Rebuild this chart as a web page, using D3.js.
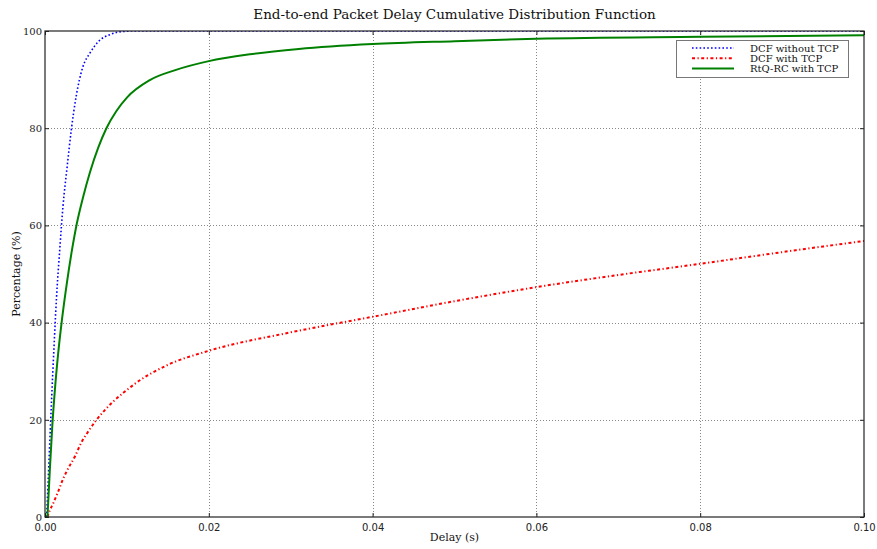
<!DOCTYPE html>
<html>
<head>
<meta charset="utf-8">
<script src="https://cdn.jsdelivr.net/npm/d3@7"></script>
<style>
  html, body { margin: 0; padding: 0; background: #fff; }
  svg { display: block; }
</style>
</head>
<body>
<svg id="chart" width="877" height="549"></svg>
<script>
// ---- data ----
const chartTitle = "End-to-end Packet Delay Cumulative Distribution Function";
const xLabel = "Delay (s)";
const yLabel = "Percentage (%)";
const xTicks = [0, 0.02, 0.04, 0.06, 0.08, 0.1];
const yTicks = [0, 20, 40, 60, 80, 100];
const seriesNames = ["DCF without TCP", "DCF with TCP", "RtQ-RC with TCP"];

const dcfNoTcpX = [0.0002, 0.0005, 0.0008, 0.0011, 0.0014, 0.0018, 0.0022, 0.0027, 0.0032, 0.0038, 0.0046, 0.0055, 0.0065, 0.008, 0.0095, 0.011, 0.1];
const dcfNoTcpY = [0, 12, 24, 35, 45, 55, 64, 72, 79.5, 86.5, 92.5, 95.5, 97.8, 99.3, 99.9, 100, 100];

const dcfTcpX = [0.0003, 0.0006, 0.001, 0.0016, 0.0022, 0.0029, 0.0037, 0.0044, 0.0052, 0.0062, 0.0072, 0.0083, 0.0096, 0.0108, 0.015, 0.02, 0.03, 0.04, 0.05, 0.06, 0.07, 0.08, 0.09, 0.1];
const dcfTcpY = [0, 1.4, 2.8, 5.2, 7.8, 10.2, 12.6, 15.2, 17.4, 19.8, 21.8, 23.7, 25.6, 27.2, 31.3, 34.2, 38.0, 41.2, 44.4, 47.3, 49.8, 52.1, 54.5, 56.8];

const rtqX = [0.0003, 0.0006, 0.0009, 0.0012, 0.0016, 0.0021, 0.0027, 0.0033, 0.0039, 0.0046, 0.0055, 0.0065, 0.0075, 0.0087, 0.01, 0.0128, 0.016, 0.02, 0.025, 0.031, 0.04, 0.05, 0.06, 0.08, 0.1];
const rtqY = [0, 10, 19, 26, 33.5, 41, 48.5, 55, 60.5, 65.5, 71, 76, 80, 83.5, 86.3, 89.9, 92, 93.8, 95.2, 96.3, 97.3, 97.9, 98.4, 98.8, 99.1];

// ---- layout ----
const W = 877, H = 549;
const margin = { left: 45, right: 13, top: 31, bottom: 32 };
const pw = W - margin.left - margin.right;
const ph = H - margin.top - margin.bottom;

const svg = d3.select("#chart");
const x = d3.scaleLinear().domain([0, 0.1]).range([0, pw]);
const y = d3.scaleLinear().domain([0, 100]).range([ph, 0]);

const g = svg.append("g").attr("transform", `translate(${margin.left},${margin.top})`);

svg.append("defs").append("clipPath").attr("id", "clip")
  .append("rect").attr("x", 0).attr("y", 0).attr("width", pw).attr("height", ph);

// grid
const grid = g.append("g");
grid.selectAll(".gx").data(xTicks.slice(1, -1)).enter().append("line")
  .attr("x1", d => Math.round(x(d)) + 0.5).attr("x2", d => Math.round(x(d)) + 0.5)
  .attr("y1", 0).attr("y2", ph)
  .attr("stroke", "#888").attr("stroke-width", 1).attr("stroke-dasharray", "1,2");
grid.selectAll(".gy").data(yTicks.slice(1, -1)).enter().append("line")
  .attr("y1", d => Math.round(y(d)) + 0.5).attr("y2", d => Math.round(y(d)) + 0.5)
  .attr("x1", 0).attr("x2", pw)
  .attr("stroke", "#888").attr("stroke-width", 1).attr("stroke-dasharray", "1,2");

// lines
const series = [
  { name: seriesNames[0], xs: dcfNoTcpX, ys: dcfNoTcpY, color: "#0000ff", width: 1.6, dash: "1.6,2.2" },
  { name: seriesNames[1], xs: dcfTcpX, ys: dcfTcpY, color: "#ff0000", width: 2, dash: "3,2.5,1.2,2.5" },
  { name: seriesNames[2], xs: rtqX, ys: rtqY, color: "#008000", width: 2, dash: null }
];
const line = d3.line().x(d => x(d[0])).y(d => y(d[1])).curve(d3.curveMonotoneX);
const lines = g.append("g").attr("clip-path", "url(#clip)");
series.forEach(s => {
  const pts = s.xs.map((v, i) => [v, s.ys[i]]);
  lines.append("path").datum(pts).attr("d", line)
    .attr("fill", "none").attr("stroke", s.color).attr("stroke-width", s.width)
    .attr("stroke-dasharray", s.dash);
});

// axes (ticks inward)
const xAxis = d3.axisBottom(x).tickValues(xTicks).tickFormat(d3.format(".2f")).tickSizeInner(-4).tickSizeOuter(0).tickPadding(7);
const yAxis = d3.axisLeft(y).tickValues(yTicks).tickFormat(d3.format("d")).tickSizeInner(-4).tickSizeOuter(0).tickPadding(3);
const xa = g.append("g").attr("transform", `translate(0,${ph})`).call(xAxis);
const ya = g.append("g").call(yAxis);
const xTop = g.append("g").call(d3.axisTop(x).tickValues(xTicks).tickSizeInner(-4).tickSizeOuter(0).tickFormat(""));
const yRight = g.append("g").attr("transform", `translate(${pw},0)`).call(d3.axisRight(y).tickValues(yTicks).tickSizeInner(-4).tickSizeOuter(0).tickFormat(""));
[xa, ya, xTop, yRight].forEach(a => {
  a.select(".domain").remove();
  a.selectAll(".tick line").attr("stroke", "#222");
});
xa.selectAll("text").attr("font-family", "DejaVu Sans").attr("font-size", 10).attr("fill", "#222");
ya.selectAll("text").attr("font-family", "DejaVu Serif").attr("font-size", 10).attr("fill", "#222");

// frame
g.append("rect").attr("x", 0).attr("y", 0).attr("width", pw).attr("height", ph)
  .attr("fill", "none").attr("stroke", "#222").attr("stroke-width", 1.2);

// title & labels
svg.append("text").attr("x", margin.left + pw / 2).attr("y", 19)
  .attr("text-anchor", "middle").attr("font-family", "DejaVu Serif").attr("font-size", 13.5)
  .attr("fill", "#111").text(chartTitle);
svg.append("text").attr("x", margin.left + pw / 2).attr("y", 541)
  .attr("text-anchor", "middle").attr("font-family", "DejaVu Serif").attr("font-size", 11)
  .attr("fill", "#111").text(xLabel);
svg.append("text").attr("transform", `translate(20,${margin.top + ph / 2}) rotate(-90)`)
  .attr("text-anchor", "middle").attr("font-family", "DejaVu Serif").attr("font-size", 11)
  .attr("fill", "#111").text(yLabel);

// legend
const lg = svg.append("g").attr("transform", "translate(676,40)");
lg.append("rect").attr("x", 0.5).attr("y", 0.5).attr("width", 172).attr("height", 37)
  .attr("fill", "#fff").attr("stroke", "#777").attr("stroke-width", 1);
series.forEach((s, i) => {
  const yy = 8 + i * 10.3;
  lg.append("line").attr("x1", 16).attr("x2", 58).attr("y1", yy).attr("y2", yy)
    .attr("stroke", s.color).attr("stroke-width", s.width).attr("stroke-dasharray", s.dash);
  lg.append("text").attr("x", 74).attr("y", yy + 3.5)
    .attr("font-family", "DejaVu Serif").attr("font-size", 10).attr("fill", "#111").text(s.name);
});
</script>
</body>
</html>
